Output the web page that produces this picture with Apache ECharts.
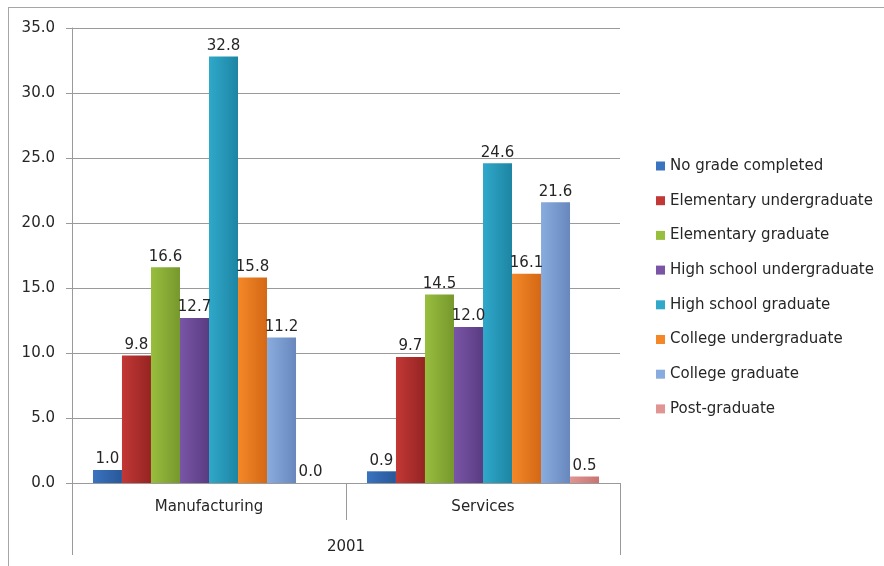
<!DOCTYPE html>
<html>
<head>
<meta charset="utf-8">
<script src="https://cdn.jsdelivr.net/npm/echarts@6/dist/echarts.min.js"></script>
<style>
  html, body { margin: 0; padding: 0; background: #fff; }
  #main {
    position: absolute; left: 8px; top: 7px;
    width: 876px; height: 559px;
    border-top: 1px solid #a6a6a6; border-left: 1px solid #a6a6a6;
  }
  #chart { position: absolute; left: -9px; top: -8px; width: 884px; height: 566px; }
</style>
</head>
<body>
<div id="main"><div id="chart"></div></div>
<script>
// categories and series
const categories = ['Manufacturing', 'Services'];
const yearLabel = ['2001'];
const seriesNames = [
  'No grade completed',
  'Elementary undergraduate',
  'Elementary graduate',
  'High school undergraduate',
  'High school graduate',
  'College undergraduate',
  'College graduate',
  'Post-graduate'
];
const noGrade = [1.0, 0.9];
const elemUnder = [9.8, 9.7];
const elemGrad = [16.6, 14.5];
const hsUnder = [12.7, 12.0];
const hsGrad = [32.8, 24.6];
const collegeUnder = [15.8, 16.1];
const collegeGrad = [11.2, 21.6];
const postGrad = [0.0, 0.5];
const values = [noGrade, elemUnder, elemGrad, hsUnder, hsGrad, collegeUnder, collegeGrad, postGrad];

// excel-ish gradient colors (light -> dark)
const colors = [
  ['#3a73bf', '#285899'],
  ['#c23836', '#952422'],
  ['#98be3e', '#76982d'],
  ['#7a55a6', '#593c82'],
  ['#30a8ca', '#1d85a3'],
  ['#f48828', '#d46815'],
  ['#89acde', '#6888bd'],
  ['#e09593', '#c77472']
];

const font = 'DejaVu Sans';
const textColor = '#262626';

let chart = echarts.init(document.getElementById('chart'));
let series = seriesNames.map((name, i) => ({
  name: name,
  type: 'bar',
  xAxisIndex: 0,
  data: values[i],
  barGap: '0%',
  barCategoryGap: '15.3%',
  itemStyle: {
    color: new echarts.graphic.LinearGradient(0, 0, 1, 0, [
      { offset: 0, color: colors[i][0] },
      { offset: 1, color: colors[i][1] }
    ])
  },
  label: {
    show: true,
    position: 'top',
    distance: 3,
    fontFamily: font,
    fontSize: 15,
    color: textColor,
    formatter: p => p.value.toFixed(1)
  }
}));

let option = {
  animation: false,
  grid: { left: 72, right: 264, top: 28, bottom: 83 },
  legend: {
    orient: 'vertical',
    left: 651,
    top: 152,
    icon: 'rect',
    itemWidth: 9,
    itemHeight: 9,
    itemGap: 16.7,
    textStyle: { fontFamily: font, fontSize: 15, color: textColor, lineHeight: 18 },
    data: seriesNames.map((n, i) => ({ name: n, itemStyle: { color: colors[i][0] } }))
  },
  xAxis: [
    {
      type: 'category',
      data: categories,
      position: 'bottom',
      axisLine: { show: true, lineStyle: { color: '#9a9a9a', width: 1 } },
      axisTick: { show: true, length: 37, lineStyle: { color: '#9a9a9a' } },
      axisLabel: { fontFamily: font, fontSize: 15, color: textColor, margin: 17 }
    },
    {
      type: 'category',
      data: yearLabel,
      position: 'bottom',
      offset: 37,
      axisLine: { show: false },
      axisTick: { show: true, length: 35, lineStyle: { color: '#9a9a9a' } },
      axisLabel: { fontFamily: font, fontSize: 15, color: textColor, margin: 20 }
    }
  ],
  yAxis: {
    type: 'value',
    min: 0,
    max: 35,
    interval: 5,
    axisLine: { show: true, lineStyle: { color: '#9a9a9a' } },
    axisTick: { show: true, length: 6, lineStyle: { color: '#9a9a9a' } },
    axisLabel: {
      fontFamily: font, fontSize: 15, color: textColor, margin: 17,
      formatter: v => v.toFixed(1)
    },
    splitLine: { lineStyle: { color: '#9a9a9a', width: 1 } }
  },
  series: series
};
chart.setOption(option);
</script>
</body>
</html>
